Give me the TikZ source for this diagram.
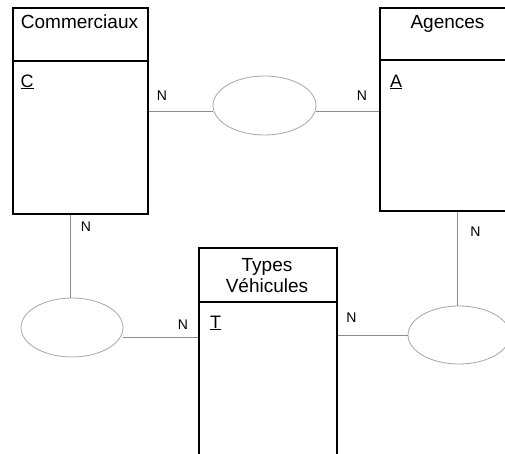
\documentclass[tikz,border=0pt]{standalone}
\usepackage{fontspec}
\setmainfont{Liberation Sans}
\usetikzlibrary{shapes.geometric,calc}
\begin{document}
\begin{tikzpicture}[x=1pt,y=-1pt,
  entity/.style={draw=black, line width=2.3pt, rectangle, inner sep=0, anchor=north west},
  divider/.style={draw=black, line width=2.3pt},
  title/.style={font=\fontsize{19}{21}\selectfont, inner sep=0, anchor=base, align=center},
  attr/.style={font=\fontsize{18}{20}\selectfont, inner sep=0, anchor=base west},
  relation/.style={ellipse, draw=black!35, line width=0.8pt, inner sep=0, minimum width=103, minimum height=59},
  conn/.style={draw=black!45, line width=1pt},
  card/.style={font=\fontsize{14}{14}\selectfont, inner sep=0}]
\useasboundingbox (0,0) rectangle (505,453);
\clip (0,0) rectangle (505,453);
\fill[white] (0,0) rectangle (505,453);

% entities
\node[entity, minimum width=135, minimum height=206] (c) at (12,7) {};
\node[entity, minimum width=137, minimum height=203] (a) at (379,7) {};
\node[entity, minimum width=138, minimum height=230] (t) at (198,247) {};

\draw[divider] (c.west |- 0,61) -- (c.east |- 0,61);
\draw[divider] (a.west |- 0,60) -- (a.east |- 0,60);
\draw[divider] (t.west |- 0,302) -- (t.east |- 0,302);

\node[title] (ct) at (79.5,28.5) {Commerciaux};
\node[title] (at) at (447.5,28.5) {Agences};
\node[title] (tt1) at (267,271) {Types};
\node[title] (tt2) at (267,292) {Véhicules};

\node[attr] (ca) at (20.5,87) {\underline{C}};
\node[attr] (aa) at (390,87) {\underline{A}};
\node[attr] (ta) at (210,328) {\underline{T}};

% relations
\node[relation] (r1) at (264.5,105.5) {};
\node[relation, minimum width=102] (r2) at (72,327.5) {};
\node[relation, minimum width=102, minimum height=58] (r3) at (459,335) {};

% connectors
\draw[conn] (c.east |- 0,111) -- ($(r1.west)+(0.8,5.5)$);
\draw[conn] ($(r1.east)+(-0.8,5.5)$) -- (a.west |- 0,111);
\draw[conn] (c.south -| 70,0) -- (r2.north -| 70,0);
\draw[conn] ($(r2.east)+(-0.6,9.5)$) -- (t.west |- 0,337);
\draw[conn] (a.south -| 457,0) -- (r3.north -| 457,0);
\draw[conn] (t.east |- 0,335) -- (r3.west);

% cardinalities
\node[card] (n1) at (162,96) {N};
\node[card] (n2) at (362,96) {N};
\node[card] (n3) at (86,227) {N};
\node[card] (n4) at (475.5,231.5) {N};
\node[card] (n5) at (183,324.5) {N};
\node[card] (n6) at (351.5,317.5) {N};
\end{tikzpicture}
\end{document}
